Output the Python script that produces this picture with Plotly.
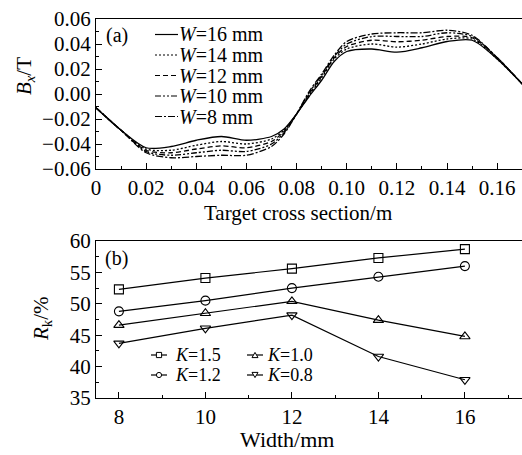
import plotly.graph_objects as go

# ---------------- data ----------------
x_pos = [0, 0.01, 0.02, 0.03, 0.04, 0.05, 0.06, 0.07, 0.075, 0.08, 0.085, 0.09,
         0.095, 0.10, 0.11, 0.12, 0.13, 0.14, 0.15, 0.16, 0.17]
bx_w16 = [-0.011, -0.029, -0.043, -0.042, -0.037, -0.034, -0.037, -0.034, -0.028, -0.016,
          -0.002, 0.011, 0.026, 0.034, 0.036, 0.0335, 0.037, 0.042, 0.043, 0.028, 0.008]
bx_w14 = [-0.011, -0.029, -0.044, -0.045, -0.041, -0.038, -0.040, -0.036, -0.029, -0.016,
          -0.001, 0.013, 0.028, 0.036, 0.040, 0.0375, 0.040, 0.044, 0.044, 0.028, 0.008]
bx_w12 = [-0.011, -0.029, -0.045, -0.047, -0.044, -0.0415, -0.043, -0.038, -0.030, -0.016,
          0.000, 0.014, 0.029, 0.038, 0.043, 0.0418, 0.043, 0.046, 0.045, 0.029, 0.008]
bx_w10 = [-0.011, -0.029, -0.046, -0.049, -0.047, -0.045, -0.046, -0.040, -0.031, -0.016,
          0.001, 0.015, 0.030, 0.040, 0.046, 0.046, 0.046, 0.049, 0.046, 0.029, 0.008]
bx_w8 = [-0.011, -0.029, -0.047, -0.051, -0.050, -0.049, -0.049, -0.042, -0.032, -0.016,
         0.002, 0.016, 0.031, 0.042, 0.048, 0.049, 0.049, 0.051, 0.047, 0.029, 0.008]
w_labels = ["<i>W</i>=16 mm", "<i>W</i>=14 mm", "<i>W</i>=12 mm", "<i>W</i>=10 mm", "<i>W</i>=8 mm"]

widths = [8, 10, 12, 14, 16]
rk_k15 = [52.3, 54.1, 55.6, 57.3, 58.7]
rk_k12 = [48.8, 50.5, 52.5, 54.3, 56.0]
rk_k10 = [46.6, 48.5, 50.4, 47.4, 44.8]
rk_k08 = [43.7, 46.1, 48.2, 41.6, 37.9]
k_labels = ["<i>K</i>=1.5", "<i>K</i>=1.2", "<i>K</i>=1.0", "<i>K</i>=0.8"]

top_xticks = [0, 0.02, 0.04, 0.06, 0.08, 0.10, 0.12, 0.14, 0.16]
top_xtext = ["0", "0.02", "0.04", "0.06", "0.08", "0.10", "0.12", "0.14", "0.16"]
top_yticks = [-0.06, -0.04, -0.02, 0.0, 0.02, 0.04, 0.06]
top_ytext = ["\u22120.06", "\u22120.04", "\u22120.02", "0.00", "0.02", "0.04", "0.06"]
bot_xticks = [8, 10, 12, 14, 16]
bot_yticks = [35, 40, 45, 50, 55, 60]

# ---------------- layout helpers ----------------
W, H = 522, 455
ML, MR, MT, MB = 96, 0, 19, 57
PW, PH = W - ML - MR, H - MT - MB
FONT = "Liberation Serif"
FS = 21


def px(x):
    return (x - ML) / PW


def py(y):
    return 1 - (y - MT) / PH


fig = go.Figure()

dashes = ["solid", "2px,2px", "5px,3px", "6px,2px,2px,2px,2px,2px", "7px,2px,2px,2px"]
series_top = [bx_w16, bx_w14, bx_w12, bx_w10, bx_w8]
for ys, name, d in zip(series_top, w_labels, dashes):
    fig.add_trace(go.Scatter(x=x_pos, y=ys, mode="lines", name=name,
                             line=dict(color="black", width=1.3, dash=d, shape="spline", smoothing=0.8),
                             xaxis="x", yaxis="y", showlegend=False))

symbols = ["square-open", "circle-open", "triangle-up-open", "triangle-down-open"]
series_bot = [rk_k15, rk_k12, rk_k10, rk_k08]
for ys, name, s in zip(series_bot, k_labels, symbols):
    fig.add_trace(go.Scatter(x=widths, y=ys, mode="lines+markers", name=name,
                             line=dict(color="black", width=1.2),
                             marker=dict(symbol=s, size=9, color="black", line=dict(width=1.1, color="black")),
                             xaxis="x2", yaxis="y2", showlegend=False))

axis_common = dict(showgrid=False, zeroline=False, showline=True, linecolor="black", linewidth=1.3,
                   ticks="inside", ticklen=6, tickwidth=1.2, tickcolor="black",
                   tickfont=dict(family=FONT, size=FS, color="black"))

top_dom = [(398 - 169) / PH, 1.0]
bot_dom = [0.0, (398 - 241) / PH]

fig.update_layout(
    width=W, height=H,
    margin=dict(l=ML, r=MR, t=MT, b=MB, pad=0),
    plot_bgcolor="white", paper_bgcolor="white",
    font=dict(family=FONT, size=FS, color="black"),
    xaxis=dict(domain=[0, 1], range=[0, 0.1699], anchor="y", mirror=True,
               tickvals=top_xticks, ticktext=top_xtext,
               minor=dict(ticks="inside", ticklen=3, dtick=0.01, tick0=0, tickcolor="black"),
               **axis_common),
    yaxis=dict(domain=top_dom, range=[-0.06, 0.06], anchor="x",
               tickvals=top_yticks, ticktext=top_ytext,
               minor=dict(ticks="inside", ticklen=3, dtick=0.01, tick0=0, tickcolor="black"),
               **axis_common),
    xaxis2=dict(domain=[0, 1], range=[7.47, 17.32], anchor="y2", mirror=True,
                tickvals=bot_xticks,
                minor=dict(ticks="inside", ticklen=3, dtick=1, tick0=0, tickcolor="black"),
                **axis_common),
    yaxis2=dict(domain=bot_dom, range=[35, 60], anchor="x2",
                tickvals=bot_yticks,
                minor=dict(ticks="inside", ticklen=3, dtick=2.5, tick0=0, tickcolor="black"),
                **axis_common),
)

ann = []


def text(xp, yp, t, xa="center", angle=0, size=FS):
    ann.append(dict(x=px(xp), y=py(yp), xref="paper", yref="paper", text=t, showarrow=False,
                    xanchor=xa, yanchor="middle", textangle=angle, borderpad=0,
                    font=dict(family=FONT, size=size, color="black")))


text(298, 213, "Target cross section/m", size=21)
text(287, 439, "Width/mm", size=22)
text(25, 76, "<i>B</i><sub><i>x</i></sub>/T", angle=-90)
text(42, 319, "<i>R</i><sub>k</sub>/%", angle=-90)
text(105, 35, "(a)", xa="left", size=20)
text(104, 258, "(b)", xa="left", size=20)

shapes = []
# top legend
for i, (name, d) in enumerate(zip(w_labels, dashes)):
    yy = 34.5 + 20.5 * i
    shapes.append(dict(type="line", xref="paper", yref="paper", x0=px(155), x1=px(178), y0=py(yy), y1=py(yy),
                       line=dict(color="black", width=1.2, dash=d)))
    text(178, yy, name, xa="left", size=20)

# bottom legend
leg_pos = [(151, 167, 159, 174, 355), (151, 167, 159, 174, 375),
           (247, 263, 255, 266, 355), (247, 263, 255, 266, 375)]
for (x0, x1, xm, xt, yy), name, s in zip(leg_pos, k_labels, symbols):
    shapes.append(dict(type="line", xref="paper", yref="paper", x0=px(x0), x1=px(x1), y0=py(yy), y1=py(yy),
                       line=dict(color="black", width=1.2)))
    r = 2.6
    style = dict(xref="paper", yref="paper", line=dict(color="black", width=1), fillcolor="white")
    if s == "square-open":
        shapes.append(dict(type="rect", x0=px(xm - r), x1=px(xm + r), y0=py(yy - r), y1=py(yy + r), **style))
    elif s == "circle-open":
        shapes.append(dict(type="circle", x0=px(xm - r), x1=px(xm + r), y0=py(yy - r), y1=py(yy + r), **style))
    elif s == "triangle-up-open":
        path = f"M {px(xm - r - 0.4)},{py(yy + r)} L {px(xm + r + 0.4)},{py(yy + r)} L {px(xm)},{py(yy - r)} Z"
        shapes.append(dict(type="path", path=path, **style))
    else:
        path = f"M {px(xm - r - 0.4)},{py(yy - r)} L {px(xm + r + 0.4)},{py(yy - r)} L {px(xm)},{py(yy + r)} Z"
        shapes.append(dict(type="path", path=path, **style))
    text(xt, yy, name, xa="left", size=18)

fig.update_layout(annotations=ann, shapes=shapes)
fig.write_html("out.html", config={"displayModeBar": False},
               post_script="document.body.style.margin='0';document.body.style.padding='0';"
                           "document.documentElement.style.overflow='hidden';")
